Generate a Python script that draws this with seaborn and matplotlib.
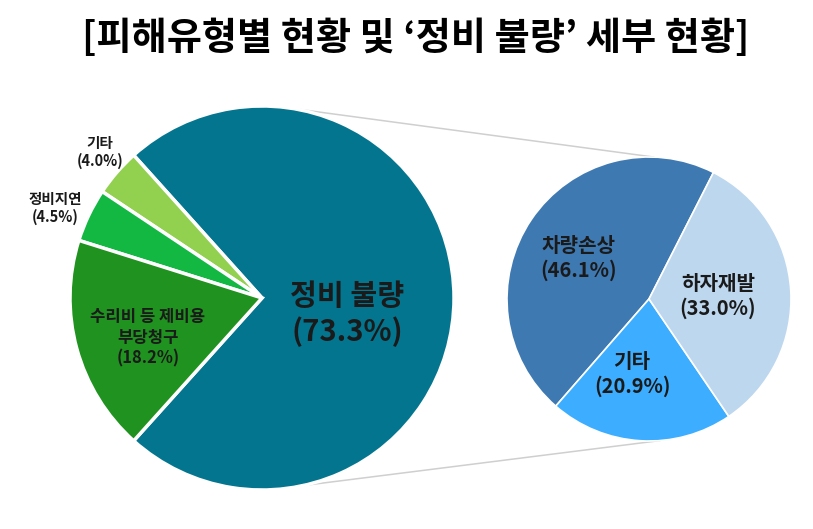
import numpy as np
import matplotlib
matplotlib.use("Agg")
import matplotlib.pyplot as plt
import seaborn as sns

# ---- data ----
title = "[피해유형별 현황 및 ‘정비 불량’ 세부 현황]"
left_labels = ["정비 불량", "기타", "정비지연", "수리비 등 제비용\n부당청구"]
left_values = [73.3, 4.0, 4.5, 18.2]
right_labels = ["차량손상", "기타", "하자재발"]
right_values = [46.1, 20.9, 33.0]

left_colors = ["#03758F", "#92D050", "#13B843", "#1F921F"]
right_colors = ["#3F79B2", "#3DAEFF", "#BDD7EE"]

sns.set_theme(style="white")
plt.rcParams["font.family"] = ["Noto Sans CJK KR", "DejaVu Sans"]

W, H = 813, 529
fig = plt.figure(figsize=(W / 100, H / 100), dpi=100)
ax = fig.add_axes([0, 0, 1, 1])
ax.set_xlim(0, W)
ax.set_ylim(0, H)
ax.set_aspect("equal")
ax.axis("off")

# geometry (pixel space, y up)
lc, lr = (262, H - 298), 192
rc, rr = (649, H - 299), 142

l_start = -left_values[0] / 100 * 360 / 2
ax.pie(left_values, colors=left_colors, startangle=l_start, counterclock=True,
       center=lc, radius=lr, frame=True,
       wedgeprops=dict(edgecolor="white", linewidth=2.5))
ax.pie(right_values, colors=right_colors, startangle=63, counterclock=True,
       center=rc, radius=rr, frame=True,
       wedgeprops=dict(edgecolor="white", linewidth=1.2))
ax.set_xlim(0, W)
ax.set_ylim(0, H)
ax.axis("off")

# connector lines
def pt(c, r, ang):
    a = np.deg2rad(ang)
    return c[0] + r * np.cos(a), c[1] + r * np.sin(a)

for la, ra in [(80.5, 88.0), (-77.6, -85.5)]:
    p1 = pt(lc, lr, la)
    p2 = pt(rc, rr, ra)
    ax.plot([p1[0], p2[0]], [p1[1], p2[1]], color="#CFCFCF", lw=1.1, zorder=0)

# labels
tc = "#1A1A1A"
def lab(x, y, s, size, weight="bold", ls=1.2):
    ax.text(x, H - y, s, ha="center", va="center", fontsize=size,
            fontweight=weight, color=tc, linespacing=ls)

lab(347, 314, f"{left_labels[0]}\n({left_values[0]:.1f}%)", 21, ls=1.25)
lab(100, 152, f"{left_labels[1]}\n({left_values[1]:.1f}%)", 10.5, ls=1.15)
lab(55, 208, f"{left_labels[2]}\n({left_values[2]:.1f}%)", 10.5, ls=1.15)
lab(148, 338, f"{left_labels[3]}\n({left_values[3]:.1f}%)", 12, ls=1.2)

lab(579, 258, f"{right_labels[0]}\n({right_values[0]:.1f}%)", 14.5, ls=1.25)
lab(632, 374, f"{right_labels[1]}\n({right_values[1]:.1f}%)", 14.5, ls=1.25)
lab(718, 296, f"{right_labels[2]}\n({right_values[2]:.1f}%)", 14.5, ls=1.25)

ax.text(W / 2 + 9, H - 38, title, ha="center", va="center", fontsize=27.5,
        fontweight="black", color="black")

fig.savefig("out.png", dpi=100)
